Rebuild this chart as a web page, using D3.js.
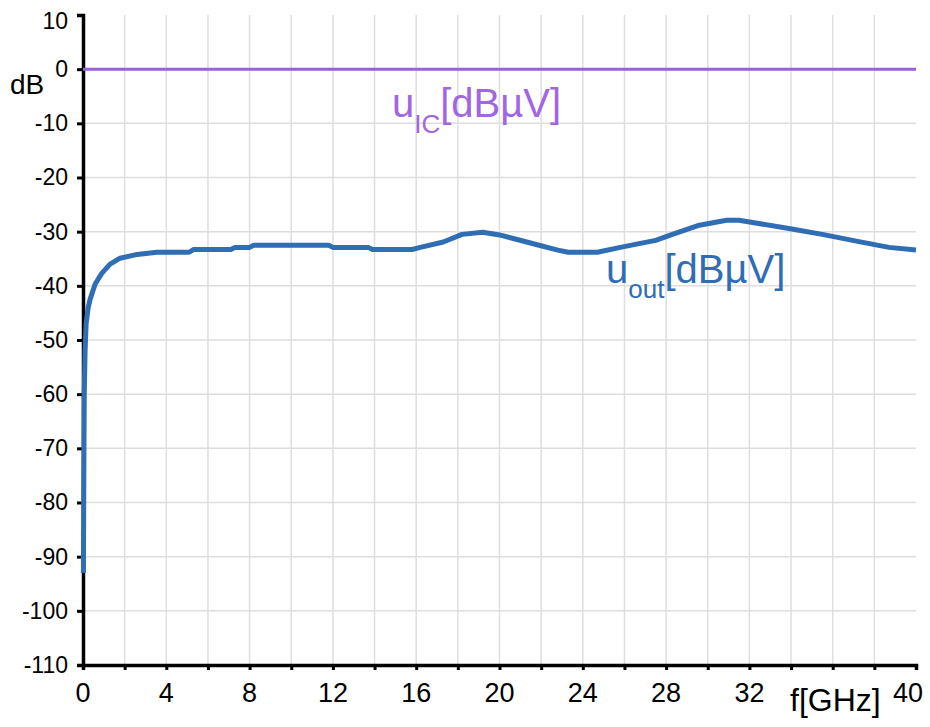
<!DOCTYPE html>
<meta charset="utf-8">
<script src="https://d3js.org/d3.v7.min.js"></script>
<style>
  body { margin: 0; background: #fff; }
  text { font-family: "Liberation Sans", Arial, sans-serif; }
</style>
<div id="chart"></div>
<script>

// frequency in GHz, output level in dB
var freq = [0.02, 0.04, 0.06, 0.1, 0.15, 0.25, 0.34, 0.58, 0.9, 1.3, 1.78, 2.6, 3.55, 5.1, 5.3, 7.1, 7.3, 8.0, 8.2,
            11.8, 12.0, 13.7, 13.9, 15.8, 16.2, 17.3, 18.2, 19.2, 20.0, 20.8, 21.9, 22.8, 23.3, 24.7, 25.8,
            26.7, 27.5, 28.3, 29.6, 30.9, 31.5, 32.3, 33.9, 35.5, 37.2, 38.7, 40];
var uout = [-93, -75, -60, -52, -47, -44, -42.5, -39.7, -37.7, -36, -34.9, -34.2, -33.8, -33.8, -33.3, -33.3, -32.9, -32.9, -32.5,
            -32.5, -32.9, -32.9, -33.3, -33.3, -32.9, -31.9, -30.5, -30.1, -30.6, -31.4, -32.5, -33.4, -33.8, -33.8, -32.9,
            -32.2, -31.6, -30.5, -28.8, -27.9, -27.9, -28.4, -29.4, -30.5, -31.8, -32.9, -33.4];
var uicFreq = [0, 40];
var uic = [0, 0];

var xTicks = [0, 4, 8, 12, 16, 20, 24, 28, 32, 40];
var yTicks = [10, 0, -10, -20, -30, -40, -50, -60, -70, -80, -90, -100, -110];

var width = 930, height = 727;

var svg = d3.select("#chart")
  .append("svg")
    .attr("width", width)
    .attr("height", height);

var x = d3.scaleLinear().domain([0, 40]).range([83, 916]);
var y = d3.scaleLinear().domain([-110, 10]).range([665, 15]);

// grid
svg.append("g")
  .selectAll("line")
  .data(d3.range(2, 40, 2))
  .enter().append("line")
    .attr("x1", function(d) { return x(d); })
    .attr("x2", function(d) { return x(d); })
    .attr("y1", y(10))
    .attr("y2", y(-110))
    .style("stroke", "#dedede")
    .style("stroke-width", 1.5);

svg.append("g")
  .selectAll("line")
  .data(d3.range(-100, 10, 10))
  .enter().append("line")
    .attr("x1", x(0))
    .attr("x2", x(40))
    .attr("y1", function(d) { return y(d); })
    .attr("y2", function(d) { return y(d); })
    .style("stroke", "#dedede")
    .style("stroke-width", 1.5);

// axes
var yAxis = svg.append("g")
  .attr("transform", "translate(" + x(0) + ",0)")
  .call(d3.axisLeft(y).tickValues(yTicks).tickSize(6).tickPadding(9)
    .tickFormat(function(d) { return String(d); }));

var xAxis = svg.append("g")
  .attr("transform", "translate(0," + y(-110) + ")")
  .call(d3.axisBottom(x).tickValues(d3.range(0, 41, 2)).tickSize(5).tickFormat(""));

svg.append("g")
  .selectAll("text")
  .data(xTicks)
  .enter().append("text")
    .attr("x", function(d) { return d == 40 ? x(d) - 8 : x(d); })
    .attr("y", 702)
    .attr("text-anchor", "middle")
    .style("font-size", "27px")
    .style("fill", "#000")
    .text(function(d) { return d; });

svg.selectAll(".domain").style("stroke", "#000").style("stroke-width", 3.5);
svg.selectAll(".tick line").style("stroke", "#000").style("stroke-width", 3);
yAxis.selectAll(".tick text").style("font-size", "23px").style("fill", "#000");
yAxis.selectAll(".tick text").filter(function(d) { return d == 10; }).attr("dy", "0.6em");

// lines
var line = d3.line()
  .x(function(d) { return x(d[0]); })
  .y(function(d) { return y(d[1]); });

svg.append("path")
  .datum(d3.zip(uicFreq, uic))
  .attr("d", line)
  .style("fill", "none")
  .style("stroke", "#9b60dc")
  .style("stroke-width", 3);

svg.append("path")
  .datum(d3.zip(freq, uout))
  .attr("d", line)
  .style("fill", "none")
  .style("stroke", "#2f6db5")
  .style("stroke-width", 5)
  .style("stroke-linejoin", "round");

// axis titles
svg.append("text")
  .attr("x", 10).attr("y", 94)
  .style("font-size", "28px")
  .text("dB");

svg.append("text")
  .attr("x", 790).attr("y", 711)
  .style("font-size", "32px")
  .text("f[GHz]");

// series labels
var lic = svg.append("text")
  .attr("x", 392).attr("y", 117)
  .style("font-size", "40px")
  .style("fill", "#a066e4");
lic.append("tspan").text("u");
lic.append("tspan").attr("dy", 16).style("font-size", "26px").text("IC");
lic.append("tspan").attr("dy", -16).text("[dBµV]");

var lout = svg.append("text")
  .attr("x", 606).attr("y", 283)
  .style("font-size", "40px")
  .style("fill", "#2f6db5");
lout.append("tspan").text("u");
lout.append("tspan").attr("dy", 15).style("font-size", "26px").text("out");
lout.append("tspan").attr("dy", -15).text("[dBµV]");

</script>
